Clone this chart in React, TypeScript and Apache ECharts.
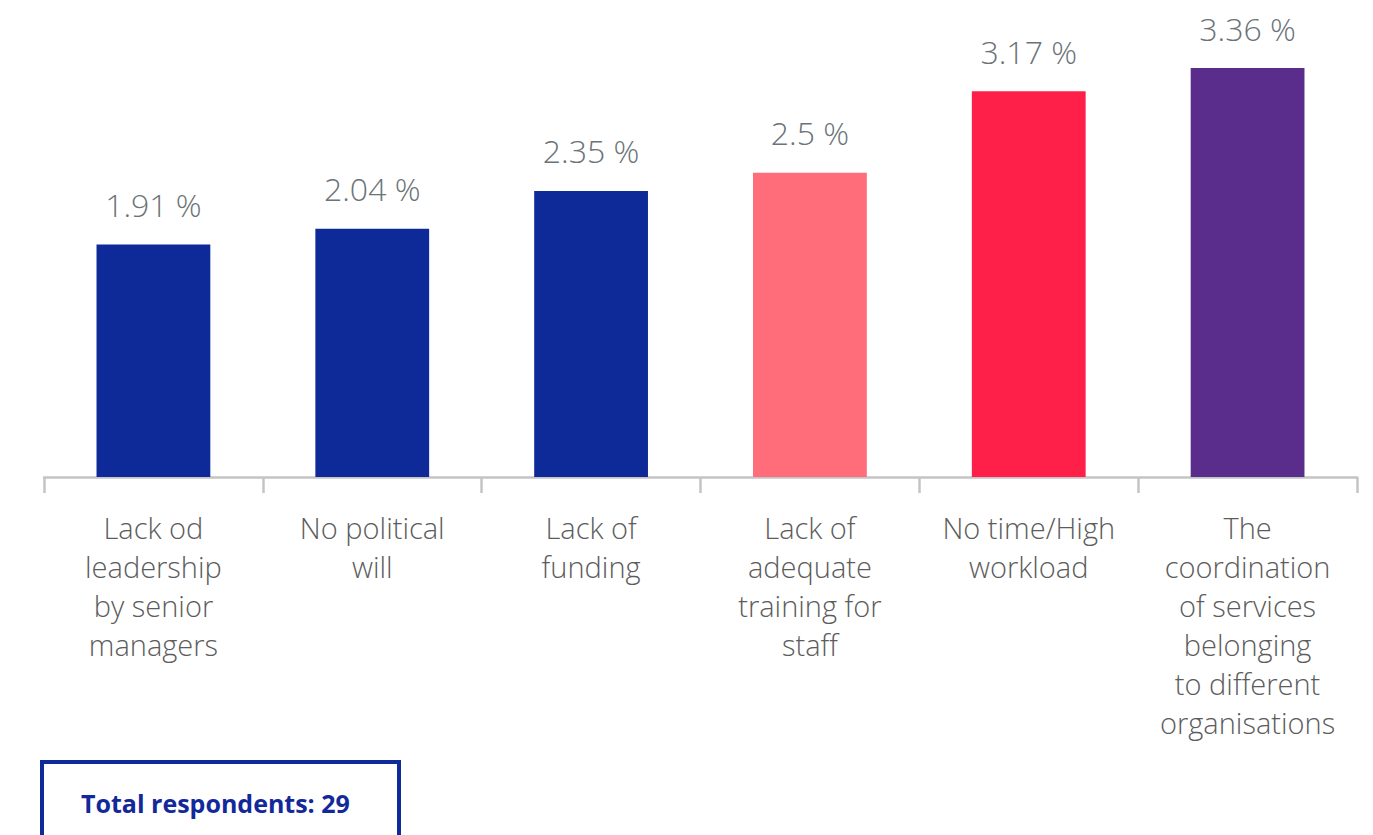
import React, { useEffect, useRef } from "react";
import * as echarts from "echarts";

const categories = [
  "Lack od\nleadership\nby senior\nmanagers",
  "No political\nwill",
  "Lack of\nfunding",
  "Lack of\nadequate\ntraining for\nstaff",
  "No time/High\nworkload",
  "The\ncoordination\nof services\nbelonging\nto different\norganisations",
];
const values = [1.91, 2.04, 2.35, 2.5, 3.17, 3.36];
const barColors = ["#0e2a98", "#0e2a98", "#0e2a98", "#ff6c7a", "#ff2049", "#5a2d8c"];
const totalText = "Total respondents: 29";

export default function App() {
  const ref = useRef<HTMLDivElement>(null);
  useEffect(() => {
    const chart = echarts.init(ref.current!, null, { renderer: "svg" });
    chart.setOption({
      animation: false,
      grid: { left: 44, right: 16, top: 14.5, height: 462.5, containLabel: false },
      xAxis: {
        type: "category",
        data: categories,
        boundaryGap: true,
        axisLine: { lineStyle: { color: "#c4c4c4", width: 2.5 } },
        axisTick: { show: true, length: 16, lineStyle: { color: "#c4c4c4", width: 2.5 }, alignWithLabel: false },
        axisLabel: {
          interval: 0,
          margin: 31,
          color: "#5c5c5c",
          fontFamily: "Open Sans",
          fontWeight: 300,
          fontSize: 29,
          lineHeight: 39,
        },
      },
      yAxis: { type: "value", min: 0, max: 3.8, show: false, splitLine: { show: false } },
      series: [
        {
          type: "bar",
          barWidth: "52%",
          data: values.map((v, i) => ({ value: v, itemStyle: { color: barColors[i] } })),
          label: {
            show: true,
            position: "top",
            distance: 24,
            formatter: (p: any) => `${p.value} %`,
            color: "#6b7378",
            fontFamily: "Open Sans",
            fontWeight: 300,
            fontSize: 32,
          },
        },
      ],
      graphic: [
        {
          type: "rect",
          shape: { x: 42, y: 762, width: 357, height: 90 },
          style: { fill: "none", stroke: "#0f2a9a", lineWidth: 4 },
        },
        {
          type: "text",
          x: 81,
          y: 803,
          style: {
            text: totalText,
            fill: "#13299a",
            font: "bold 25px 'Open Sans'",
            verticalAlign: "middle",
          },
        },
      ],
    });
    return () => chart.dispose();
  }, []);
  return <div ref={ref} style={{ position: "fixed", left: 0, top: 0, width: 1373, height: 835, background: "#fff" }} />;
}
